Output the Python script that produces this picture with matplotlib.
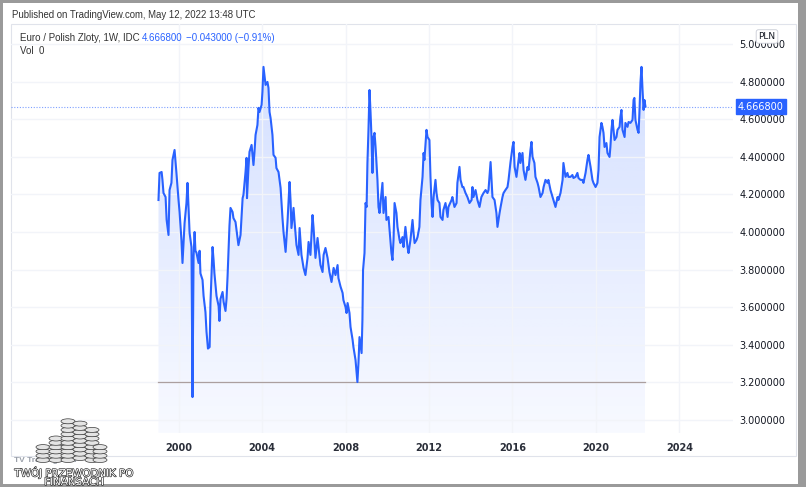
import numpy as np
import matplotlib
matplotlib.use('Agg')
import matplotlib.pyplot as plt
from matplotlib.patches import Rectangle, Polygon, Ellipse
import matplotlib.patheffects as pe

plt.rcParams['font.family'] = ['DejaVu Sans']

# EUR/PLN weekly close (decimal year, price)
dates = [
    1999.04, 1999.09, 1999.19, 1999.23, 1999.28, 1999.38, 1999.43, 1999.52, 1999.57, 1999.66,
    1999.71, 1999.81, 1999.90, 2000.00, 2000.05, 2000.14, 2000.19, 2000.29, 2000.38, 2000.43,
    2000.48, 2000.53, 2000.62, 2000.67, 2000.72, 2000.77, 2000.81, 2000.86, 2000.96, 2001.01,
    2001.05, 2001.15, 2001.20, 2001.29, 2001.34, 2001.41, 2001.49, 2001.53, 2001.63, 2001.68,
    2001.72, 2001.82, 2001.92, 2001.96, 2002.01, 2002.11, 2002.16, 2002.25, 2002.30, 2002.35,
    2002.40, 2002.44, 2002.49, 2002.59, 2002.63, 2002.73, 2002.83, 2002.87, 2002.97, 2003.07,
    2003.11, 2003.21, 2003.26, 2003.28, 2003.35, 2003.40, 2003.50, 2003.59, 2003.64, 2003.69,
    2003.78, 2003.83, 2003.88, 2003.98, 2004.02, 2004.07, 2004.17, 2004.26, 2004.31, 2004.36,
    2004.41, 2004.50, 2004.55, 2004.65, 2004.69, 2004.79, 2004.89, 2004.98, 2005.03, 2005.13,
    2005.22, 2005.32, 2005.37, 2005.41, 2005.51, 2005.56, 2005.65, 2005.75, 2005.80, 2005.89,
    2005.99, 2006.08, 2006.18, 2006.23, 2006.32, 2006.42, 2006.47, 2006.56, 2006.66, 2006.71,
    2006.80, 2006.90, 2006.95, 2007.04, 2007.14, 2007.23, 2007.33, 2007.43, 2007.52, 2007.62,
    2007.66, 2007.76, 2007.86, 2007.90, 2008.00, 2008.05, 2008.10, 2008.19, 2008.24, 2008.34,
    2008.38, 2008.48, 2008.53, 2008.57, 2008.62, 2008.67, 2008.77, 2008.81, 2008.84, 2008.91,
    2008.96, 2009.01, 2009.05, 2009.10, 2009.15, 2009.20, 2009.25, 2009.29, 2009.34, 2009.39,
    2009.44, 2009.53, 2009.58, 2009.63, 2009.72, 2009.77, 2009.82, 2009.92, 2009.96, 2010.06,
    2010.11, 2010.20, 2010.25, 2010.30, 2010.35, 2010.44, 2010.49, 2010.59, 2010.63, 2010.73,
    2010.78, 2010.87, 2010.97, 2011.02, 2011.11, 2011.21, 2011.26, 2011.31, 2011.40, 2011.45,
    2011.54, 2011.59, 2011.69, 2011.74, 2011.78, 2011.88, 2011.93, 2012.02, 2012.07, 2012.12,
    2012.17, 2012.22, 2012.31, 2012.36, 2012.41, 2012.50, 2012.55, 2012.65, 2012.69, 2012.79,
    2012.89, 2012.93, 2013.08, 2013.12, 2013.22, 2013.32, 2013.36, 2013.46, 2013.51, 2013.60,
    2013.65, 2013.75, 2013.84, 2013.94, 2014.04, 2014.08, 2014.13, 2014.23, 2014.32, 2014.42,
    2014.51, 2014.61, 2014.71, 2014.80, 2014.85, 2014.95, 2014.99, 2015.04, 2015.14, 2015.23,
    2015.28, 2015.38, 2015.43, 2015.52, 2015.57, 2015.66, 2015.76, 2015.81, 2015.90, 2016.00,
    2016.05, 2016.10, 2016.19, 2016.29, 2016.34, 2016.38, 2016.48, 2016.53, 2016.62, 2016.72,
    2016.77, 2016.86, 2016.91, 2016.96, 2017.05, 2017.10, 2017.20, 2017.25, 2017.34, 2017.44,
    2017.49, 2017.58, 2017.68, 2017.72, 2017.82, 2017.92, 2017.96, 2018.06, 2018.16, 2018.20,
    2018.30, 2018.40, 2018.44, 2018.54, 2018.63, 2018.68, 2018.78, 2018.87, 2018.92, 2019.02,
    2019.11, 2019.16, 2019.26, 2019.35, 2019.40, 2019.50, 2019.59, 2019.64, 2019.74, 2019.83,
    2019.88, 2019.98, 2020.07, 2020.12, 2020.17, 2020.26, 2020.31, 2020.36, 2020.41, 2020.50,
    2020.55, 2020.65, 2020.69, 2020.74, 2020.79, 2020.84, 2020.89, 2020.98, 2021.03, 2021.13,
    2021.17, 2021.22, 2021.27, 2021.37, 2021.41, 2021.51, 2021.56, 2021.65, 2021.75, 2021.80,
    2021.84, 2021.89, 2021.99, 2022.04, 2022.08, 2022.13, 2022.18, 2022.23, 2022.28, 2022.32,
    2022.37,
]
close = [
    4.170, 4.314, 4.319, 4.277, 4.207, 4.186, 4.064, 3.984, 4.223, 4.261,
    4.383, 4.436, 4.314, 4.170, 4.106, 3.957, 3.835, 4.048, 4.154, 4.261,
    4.133, 3.995, 3.920, 3.122, 3.867, 4.000, 3.900, 3.890, 3.835, 3.900,
    3.780, 3.745, 3.660, 3.574, 3.470, 3.380, 3.388, 3.622, 3.920, 3.850,
    3.780, 3.660, 3.606, 3.527, 3.644, 3.681, 3.628, 3.580, 3.644, 3.766,
    3.910, 4.032, 4.128, 4.106, 4.074, 4.053, 3.968, 3.930, 3.984, 4.180,
    4.197, 4.319, 4.394, 4.180, 4.340, 4.426, 4.463, 4.356, 4.426, 4.516,
    4.569, 4.660, 4.638, 4.676, 4.745, 4.878, 4.782, 4.798, 4.766, 4.638,
    4.606, 4.516, 4.410, 4.394, 4.340, 4.319, 4.234, 4.074, 4.000, 3.894,
    4.053, 4.266, 4.160, 4.021, 4.128, 4.053, 3.931, 3.878, 4.021, 3.878,
    3.809, 3.771, 3.862, 3.947, 3.878, 4.090, 4.021, 3.862, 3.968, 3.915,
    3.824, 3.787, 3.878, 3.915, 3.862, 3.787, 3.734, 3.809, 3.771, 3.824,
    3.755, 3.710, 3.676, 3.638, 3.601, 3.569, 3.622, 3.569, 3.495, 3.426,
    3.388, 3.319, 3.250, 3.202, 3.303, 3.441, 3.356, 3.532, 3.798, 3.888,
    4.154, 4.133, 4.367, 4.543, 4.755, 4.633, 4.489, 4.314, 4.505, 4.527,
    4.452, 4.277, 4.133, 4.101, 4.207, 4.261, 4.101, 4.186, 4.064, 4.080,
    4.011, 3.888, 3.851, 3.957, 4.154, 4.101, 4.027, 3.957, 3.941, 3.973,
    3.920, 4.027, 3.920, 3.888, 3.957, 4.064, 3.995, 3.941, 3.957, 3.973,
    4.027, 4.170, 4.293, 4.420, 4.383, 4.543, 4.505, 4.489, 4.293, 4.154,
    4.080, 4.186, 4.277, 4.207, 4.170, 4.154, 4.080, 4.064, 4.117, 4.154,
    4.080, 4.133, 4.170, 4.186, 4.133, 4.154, 4.261, 4.346, 4.277, 4.239,
    4.239, 4.207, 4.186, 4.154, 4.170, 4.239, 4.186, 4.223, 4.170, 4.133,
    4.186, 4.207, 4.223, 4.207, 4.223, 4.372, 4.293, 4.186, 4.170, 4.101,
    4.027, 4.101, 4.133, 4.186, 4.207, 4.223, 4.239, 4.277, 4.367, 4.452,
    4.479, 4.346, 4.293, 4.383, 4.420, 4.367, 4.420, 4.330, 4.277, 4.346,
    4.330, 4.436, 4.479, 4.399, 4.367, 4.293, 4.261, 4.239, 4.186, 4.207,
    4.239, 4.277, 4.261, 4.277, 4.223, 4.186, 4.170, 4.133, 4.186, 4.170,
    4.207, 4.277, 4.367, 4.293, 4.314, 4.293, 4.293, 4.303, 4.287, 4.293,
    4.314, 4.287, 4.277, 4.277, 4.261, 4.314, 4.383, 4.410, 4.346, 4.277,
    4.261, 4.239, 4.261, 4.330, 4.505, 4.580, 4.559, 4.527, 4.452, 4.473,
    4.420, 4.399, 4.452, 4.543, 4.596, 4.543, 4.489, 4.505, 4.543, 4.559,
    4.612, 4.649, 4.543, 4.505, 4.580, 4.559, 4.585, 4.580, 4.596, 4.702,
    4.713, 4.596, 4.543, 4.527, 4.633, 4.793, 4.878, 4.755, 4.649, 4.702,
    4.6668,
]
last_price = 4.6668
low_level = 3.2
year_ticks = [2000, 2004, 2008, 2012, 2016, 2020, 2024]
price_ticks = [3.0, 3.2, 3.4, 3.6, 3.8, 4.0, 4.2, 4.4, 4.6, 4.8, 5.0]

W, H = 806, 487
BLUE = '#2962ff'
TXT = '#131722'
SANS = ['Liberation Sans', 'DejaVu Sans']


def fx(px):
    return px / W


def fy(py):
    return 1 - py / H


fig = plt.figure(figsize=(W / 100, H / 100), dpi=100)
fig.patch.set_facecolor('#9a9a9a')
fig.patches.append(Rectangle((fx(3), fy(484)), fx(795), (484 - 3) / H,
                             transform=fig.transFigure, facecolor='white',
                             edgecolor='none', zorder=-10))
fig.patches.append(Rectangle((fx(10.5), fy(456)), fx(785), (456 - 24) / H,
                             transform=fig.transFigure, facecolor='none',
                             edgecolor='#e0e3eb', lw=0.8, zorder=-9))

ax = fig.add_axes([fx(10.5), fy(433), fx(722), (433 - 24) / H])
ax.set_facecolor('none')
ax.set_xlim(1991.95, 2026.54)
ax.set_ylim(2.931, 5.106)
for s in ax.spines.values():
    s.set_visible(False)

ax.set_xticks(year_ticks)
ax.set_xticklabels([str(y) for y in year_ticks])
ax.set_yticks(price_ticks)
ax.set_yticklabels(['%.6f' % p for p in price_ticks])
ax.yaxis.tick_right()
ax.tick_params(axis='both', length=0, labelsize=7, labelcolor=TXT)
ax.tick_params(axis='y', pad=5)
ax.tick_params(axis='x', pad=7)
for lab in ax.get_xticklabels():
    lab.set_fontweight('bold')
    lab.set_color('#2a2e39')
ax.grid(True, color='#f2f4f9', lw=1, zorder=0)

# gradient area under the line
x = np.array(dates)
y = np.array(close)
ybot = ax.get_ylim()[0]
verts = np.column_stack([np.r_[x, x[-1], x[0]], np.r_[y, ybot, ybot]])
poly = Polygon(verts, closed=True, facecolor='none', edgecolor='none')
ax.add_patch(poly)
n = 256
alpha = np.linspace(0.20, 0.035, n).reshape(-1, 1)
rgb = np.array([41, 98, 255]) / 255
grad = np.ones((n, 1, 4))
grad[:, :, :3] = rgb
grad[:, :, 3] = alpha
im = ax.imshow(grad, extent=[x[0], x[-1], ybot, y.max()], aspect='auto',
               origin='upper', zorder=1, interpolation='bilinear')
im.set_clip_path(poly)

ax.plot([x[0], x[-1]], [low_level, low_level], color='#ab9f9f', lw=0.9, zorder=2)
ax.plot(x, y, color=BLUE, lw=1.5, zorder=3, solid_joinstyle='round')
ax.axhline(last_price, color=BLUE, lw=0.8, ls=(0, (1, 1.5)), alpha=0.6, zorder=2)

# last price label on the scale
ax.text(1.0 + 5.5 / 722, last_price, '4.666800', transform=ax.get_yaxis_transform(),
        ha='left', va='center', fontsize=7, color='white', zorder=6,
        bbox=dict(boxstyle='square,pad=0.25', fc=BLUE, ec=BLUE))

# currency badge
fig.text(fx(767), fy(36.5), 'PLN', ha='center', va='center', fontsize=6.5, color=TXT,
         bbox=dict(boxstyle='round,pad=0.25', fc='white', ec='#c8cbd4', lw=0.6), zorder=7)

# header and legend
fig.text(fx(12), fy(15), 'Published on TradingView.com, May 12, 2022 13:48 UTC',
         fontsize=6.9, color='#333333', va='center', ha='left', family=SANS)
fig.text(fx(20), fy(38), 'Euro / Polish Zloty, 1W, IDC', fontsize=7, color='#333333',
         va='center', ha='left', family=SANS)
fig.text(fx(142), fy(38), '4.666800', fontsize=7, color=BLUE, va='center', ha='left',
         family=SANS)
fig.text(fx(186), fy(38), '\u22120.043000 (\u22120.91%)', fontsize=7, color=BLUE,
         va='center', ha='left', family=SANS)
fig.text(fx(20), fy(51), 'Vol  0', fontsize=7, color='#333333', va='center', ha='left',
         family=SANS)

# watermark: coin stacks + text
stacks = [(43, 460, 4), (56, 460, 6), (68, 460, 10), (80, 458, 9), (92, 460, 8), (100, 460, 4)]
for cx, base, k in stacks:
    for i in range(k):
        cy = base - i * 4.3
        fig.patches.append(Ellipse((fx(cx), fy(cy)), 14 / W, 5 / H,
                                   transform=fig.transFigure, fc='#e4e4e4',
                                   ec='#3a3a3a', lw=0.5, zorder=5))
fig.text(fx(14), fy(460), 'TV TradingView', fontsize=6, color='#9aa0aa', va='center',
         ha='left', fontweight='bold', family=SANS)
stroke = [pe.withStroke(linewidth=0.9, foreground='#222222')]
fig.text(fx(74), fy(472.5), 'TWÓJ PRZEWODNIK PO', fontsize=7.4, color='white', ha='center',
         va='center', path_effects=stroke)
fig.text(fx(74), fy(482), 'FINANSACH', fontsize=7.4, color='white', ha='center',
         va='center', path_effects=stroke)

fig.savefig('out.png', dpi=100, facecolor=fig.get_facecolor())
